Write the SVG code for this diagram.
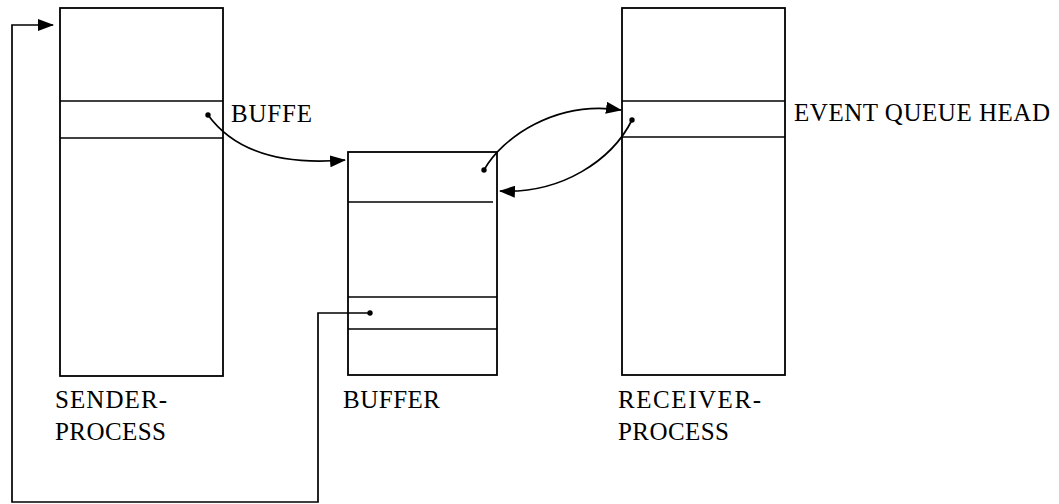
<svg xmlns="http://www.w3.org/2000/svg" width="1059" height="504" viewBox="0 0 1059 504">
<style>
.box{fill:none;stroke:#000;stroke-width:1.8}
.div{stroke:#000;stroke-width:1.4;fill:none}
.con{fill:none;stroke:#000;stroke-width:1.7}
.dot{fill:#000}
text{font-family:"Liberation Serif","Times New Roman",serif;font-size:25px;fill:#000}
</style>
<defs>
<marker id="ah" viewBox="0 0 16 12" refX="15" refY="6" markerWidth="16" markerHeight="12" markerUnits="userSpaceOnUse" orient="auto">
<path d="M0,0 L16,6 L0,12 Z" fill="#000"/>
</marker>
</defs>
<rect width="1059" height="504" fill="#fff"/>
<g id="sender">
<rect class="box" x="60" y="8" width="163" height="368"/>
<line class="div" x1="60" y1="101" x2="223" y2="101"/>
<line class="div" x1="60" y1="138" x2="223" y2="138"/>
<text x="55" y="408" textLength="112" lengthAdjust="spacing">SENDER-</text>
<text x="55" y="440" textLength="111" lengthAdjust="spacing">PROCESS</text>
<text x="231" y="122" textLength="81" lengthAdjust="spacing">BUFFE</text>
</g>
<g id="buffer">
<rect class="box" x="348" y="152" width="149" height="223"/>
<line class="div" x1="348" y1="202" x2="493" y2="202"/>
<line class="div" x1="348" y1="297" x2="497" y2="297"/>
<line class="div" x1="348" y1="329" x2="497" y2="329"/>
<text x="343" y="408" textLength="97" lengthAdjust="spacing">BUFFER</text>
</g>
<g id="receiver">
<rect class="box" x="622" y="8" width="163" height="367"/>
<line class="div" x1="622" y1="101" x2="785" y2="101"/>
<line class="div" x1="622" y1="137" x2="785" y2="137"/>
<text x="618" y="408" textLength="143" lengthAdjust="spacing">RECEIVER-</text>
<text x="618" y="440" textLength="111" lengthAdjust="spacing">PROCESS</text>
<text x="794" y="121" textLength="256" lengthAdjust="spacing">EVENT QUEUE HEAD</text>
</g>
<g id="connectors">
<path class="con" d="M208,115 C232,148 275,166 345,160" marker-end="url(#ah)"/>
<circle class="dot" cx="208" cy="115" r="2.7"/>
<path class="con" d="M484,170 C502,138 555,100 621,110" marker-end="url(#ah)"/>
<circle class="dot" cx="484" cy="170" r="2.7"/>
<path class="con" d="M632,120 C612,160 562,194 500,191" marker-end="url(#ah)"/>
<circle class="dot" cx="632" cy="120" r="2.7"/>
<path class="con" d="M370,313 L318,313 L318,502 L12,502 L12,25 L53,25" marker-end="url(#ah)"/>
<circle class="dot" cx="370" cy="313" r="2.7"/>
</g>
</svg>
